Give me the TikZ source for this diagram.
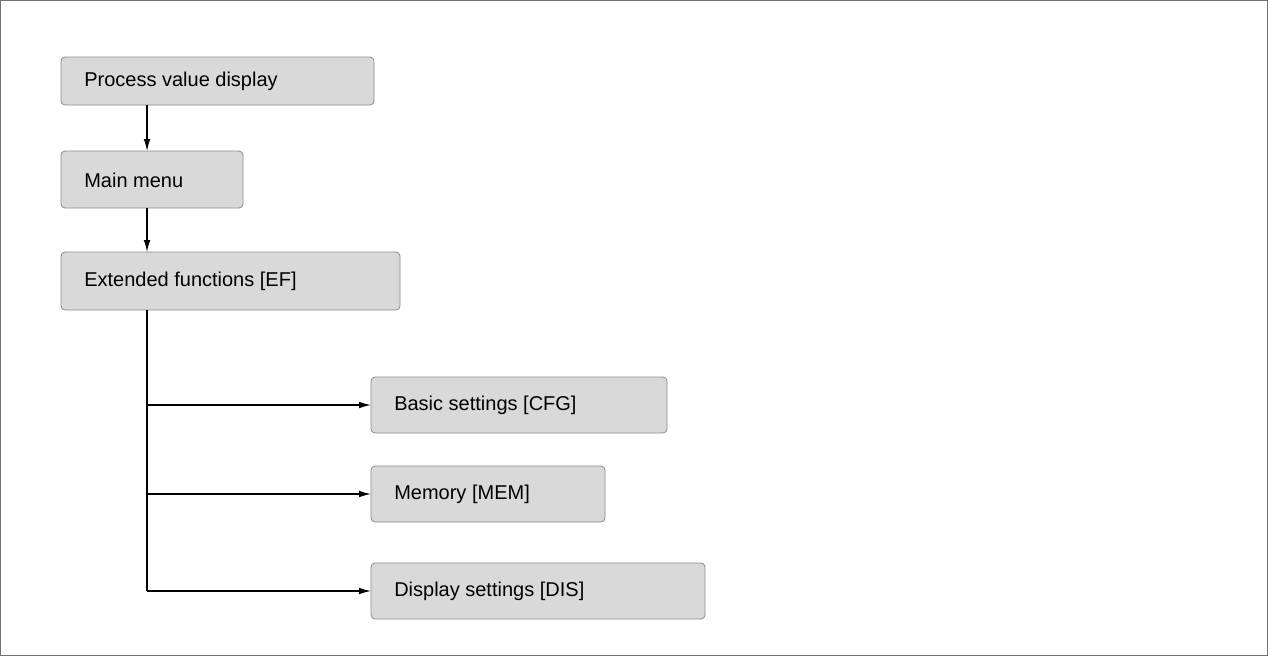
\documentclass[tikz,border=0pt]{standalone}
\usepackage{fontspec}
\setmainfont{Liberation Sans}
\usetikzlibrary{arrows.meta}
\begin{document}
\begin{tikzpicture}[x=0.75pt,y=-0.75pt,
  box/.style={draw=black!45,fill=black!15,rounded corners=3pt,line width=0.6pt},
  lbl/.style={anchor=west,font=\fontsize{15}{18}\selectfont,inner sep=0pt},
  arr/.style={-{Latex[length=9pt,width=5pt]},line width=0.9pt}]
\draw[black!55,line width=0.8pt,fill=white] (0.5,0.5) rectangle (1267.5,655.5);
\useasboundingbox (0,0) rectangle (1268,656);
\draw[box] (61,57) rectangle (374,105) coordinate (b1c);
\node[lbl] (t1) at (84,81) {Process value display};
\coordinate (b1) at (147,105);
\draw[box] (61,151) rectangle (243,208);
\node[lbl] (t2) at (84,180) {Main menu};
\coordinate (b2t) at (147,151); \coordinate (b2) at (147,208);
\draw[box] (61,252) rectangle (400,310);
\node[lbl] (t3) at (84,281) {Extended functions [EF]};
\coordinate (b3t) at (147,252); \coordinate (b3) at (147,310);
\draw[box] (371,377) rectangle (667,433);
\node[lbl] (t4) at (394,405) {Basic settings [CFG]};
\draw[box] (371,466) rectangle (605,522);
\node[lbl] (t5) at (394,494) {Memory [MEM]};
\draw[box] (371,563) rectangle (705,619);
\node[lbl] (t6) at (394,591) {Display settings [DIS]};
\coordinate (j1) at (147,405); \coordinate (j2) at (147,494); \coordinate (j3) at (147,591);
\coordinate (e1) at (371,405); \coordinate (e2) at (371,494); \coordinate (e3) at (371,591);
\draw[arr] (b1) -- (b2t);
\draw[arr] (b2) -- (b3t);
\draw[line width=0.9pt] (b3) -- (j3);
\draw[arr] (j1) -- (e1);
\draw[arr] (j2) -- (e2);
\draw[arr] (j3) -- (e3);
\end{tikzpicture}
\end{document}
